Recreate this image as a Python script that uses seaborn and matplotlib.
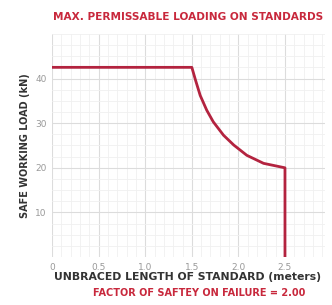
import numpy as np
import pandas as pd
import matplotlib
matplotlib.use("Agg")
import matplotlib.pyplot as plt
from matplotlib.ticker import MultipleLocator
import seaborn as sns

# Curva de carga admissivel
comprimento = [0.0, 1.50, 1.54, 1.59, 1.66, 1.73, 1.84, 1.95, 2.09, 2.27, 2.50, 2.50]
carga = [42.5, 42.5, 39.6, 36.2, 32.9, 30.3, 27.3, 25.1, 22.8, 21.0, 20.0, 0.0]
x_ticks = [0, 0.5, 1.0, 1.5, 2.0, 2.5]
x_labels = ["0", "0.5", "1.0", "1.5", "2.0", "2.5"]
y_ticks = [10, 20, 30, 40]

df = pd.DataFrame({"L": comprimento, "P": carga})

sns.set_style("white")
plt.rcParams['font.family'] = ['DejaVu Sans']

fig = plt.figure(figsize=(3.32, 3.05), dpi=100)
ax = fig.add_axes([0.157, 0.157, 0.822, 0.732])

sns.lineplot(data=df, x="L", y="P", sort=False, estimator=None,
             color="#b3233f", linewidth=2.0, ax=ax)

ax.set_xlim(0, 2.93)
ax.set_ylim(0, 50)
ax.set_xticks(x_ticks)
ax.set_xticklabels(x_labels)
ax.set_yticks(y_ticks)
ax.xaxis.set_minor_locator(MultipleLocator(0.1))
ax.yaxis.set_minor_locator(MultipleLocator(2.5))
ax.grid(which="major", color="#dcdcdc", linewidth=0.8)
ax.grid(which="minor", color="#f0f0f0", linewidth=0.6)
ax.set_axisbelow(True)
for s in ax.spines.values():
    s.set_visible(False)
ax.tick_params(which="both", length=0, labelsize=6.5, labelcolor="#999999", pad=4)

ax.set_xlabel("")
ax.set_ylabel("SAFE WORKING LOAD (kN)", fontsize=7, fontweight="bold", color="#333333", labelpad=4)

fig.text(0.567, 0.945, "MAX. PERMISSABLE LOADING ON STANDARDS", ha="center", va="center",
         fontsize=7.6, fontweight="bold", color="#c8283c")
fig.text(0.565, 0.092, "UNBRACED LENGTH OF STANDARD (meters)", ha="center", va="center",
         fontsize=7.8, fontweight="bold", color="#333333")
fig.text(0.6, 0.04, "FACTOR OF SAFTEY ON FAILURE = 2.00", ha="center", va="center",
         fontsize=7.0, fontweight="bold", color="#c8283c")

fig.savefig("out.png", dpi=100)
